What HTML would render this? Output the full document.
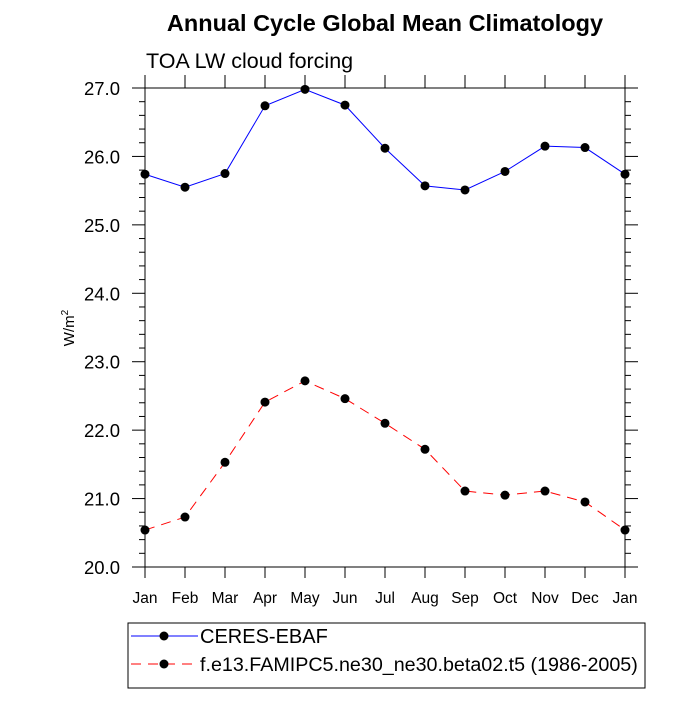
<!DOCTYPE html>
<html><head><meta charset="utf-8"><style>
body{margin:0;background:#fff;}
text{font-family:"Liberation Sans",sans-serif;}
</style></head><body>
<svg id="chart" width="700" height="700" xmlns="http://www.w3.org/2000/svg">
<text x="385" y="31" text-anchor="middle" font-size="23.5" font-weight="bold">Annual Cycle Global Mean Climatology</text>
<text x="146" y="68" font-size="21.5">TOA LW cloud forcing</text>
<text transform="translate(74,328) rotate(-90)" text-anchor="middle" font-size="15">W/m<tspan dy="-6" font-size="10">2</tspan></text>
<g id="axes"></g>
<g id="series"></g>
<g>
<rect x="128" y="623" width="517" height="65" fill="none" stroke="#000" stroke-width="1"/>
<line x1="131" y1="636" x2="198" y2="636" stroke="#0000ff" stroke-width="1"/>
<circle cx="164" cy="636" r="4.5" fill="#000"/>
<text x="200" y="643" font-size="20">CERES-EBAF</text>
<line x1="131" y1="664" x2="198" y2="664" stroke="#ff0000" stroke-width="1" stroke-dasharray="10,7"/>
<circle cx="164" cy="664" r="4.5" fill="#000"/>
<text x="200" y="671" font-size="19.7">f.e13.FAMIPC5.ne30_ne30.beta02.t5 (1986-2005)</text>
</g>
</svg>
<script>
const months=["Jan","Feb","Mar","Apr","May","Jun","Jul","Aug","Sep","Oct","Nov","Dec","Jan"];
const ceres=[25.74,25.55,25.75,26.74,26.98,26.75,26.12,25.57,25.51,25.78,26.15,26.13,25.74];
const model=[20.54,20.73,21.53,22.41,22.72,22.46,22.10,21.72,21.11,21.05,21.11,20.95,20.54];
const yTicks=[20,21,22,23,24,25,26,27];
const NS="http://www.w3.org/2000/svg";
const L=145,R=625,T=88,B=567,ymin=20,ymax=27;
const xs=i=>L+i*(R-L)/(months.length-1);
const ys=v=>B-(v-ymin)/(ymax-ymin)*(B-T);
function mk(tag,attrs,parent){const e=document.createElementNS(NS,tag);for(const k in attrs)e.setAttribute(k,attrs[k]);parent.appendChild(e);return e;}
const ax=document.getElementById('axes');
const frame=mk('rect',{x:L,y:T,width:R-L,height:B-T,fill:'none',stroke:'#000','stroke-width':1},ax);


months.forEach((m,i)=>{const x=xs(i);
mk('line',{x1:x,y1:B,x2:x,y2:B+11,stroke:'#000'},ax);
mk('line',{x1:x,y1:T,x2:x,y2:T-13,stroke:'#000'},ax);
const t=mk('text',{x:x,y:B+36,'text-anchor':'middle','font-size':15.5},ax);t.textContent=m;


});
for(let v=ymin;v<=ymax+1e-9;v+=0.2){const y=ys(v);const major=Math.abs(v-Math.round(v))<1e-6;
const len=major?13:6;
mk('line',{x1:L-len,y1:y,x2:L,y2:y,stroke:'#000'},ax);
mk('line',{x1:R,y1:y,x2:R+len,y2:y,stroke:'#000'},ax);}
yTicks.forEach(v=>{const t=mk('text',{x:L-25,y:ys(v)+7,'text-anchor':'end','font-size':18.5},ax);t.textContent=v.toFixed(1);


});
const sg=document.getElementById('series');
function draw(vals,color,dash,name){
const p=mk('polyline',{points:vals.map((v,i)=>xs(i)+','+ys(v)).join(' '),fill:'none',stroke:color,'stroke-width':1,'stroke-dasharray':dash},sg);


vals.forEach((v,i)=>{const c=mk('circle',{cx:xs(i),cy:ys(v),r:4.5,fill:'#000'},sg);

});
}
draw(ceres,'#0000ff','none','ceres');
draw(model,'#ff0000','10,7','model');
</script>
</body></html>
